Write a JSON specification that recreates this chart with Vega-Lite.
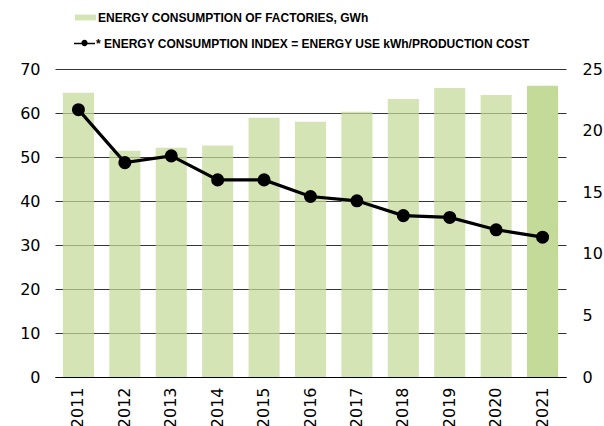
{
  "$schema": "https://vega.github.io/schema/vega-lite/v6.json",
  "width": 511,
  "height": 308,
  "autosize": {"type": "none"},
  "padding": {"left": 55, "top": 69, "right": 38, "bottom": 49},
  "background": "white",
  "data": {
    "values": [
      {"year": "2011", "energy": 64.6, "index": 21.7},
      {"year": "2012", "energy": 51.4, "index": 17.4},
      {"year": "2013", "energy": 52.1, "index": 17.95},
      {"year": "2014", "energy": 52.6, "index": 16.0},
      {"year": "2015", "energy": 58.9, "index": 16.0},
      {"year": "2016", "energy": 58.0, "index": 14.65},
      {"year": "2017", "energy": 60.3, "index": 14.3},
      {"year": "2018", "energy": 63.2, "index": 13.1},
      {"year": "2019", "energy": 65.7, "index": 12.95},
      {"year": "2020", "energy": 64.1, "index": 11.95},
      {"year": "2021", "energy": 66.2, "index": 11.35}
    ]
  },
  "config": {
    "view": {"stroke": null},
    "axis": {
      "labelFont": "DejaVu Sans",
      "labelFontSize": 16,
      "labelColor": "#000",
      "ticks": false,
      "title": null
    },
    "legend": {
      "labelFont": "Liberation Sans",
      "labelFontWeight": "bold",
      "labelFontSize": 12,
      "labelColor": "#000",
      "labelLimit": 0,
      "title": null,
      "orient": "none"
    }
  },
  "encoding": {
    "x": {
      "field": "year",
      "type": "nominal",
      "scale": {"paddingInner": 0.33, "paddingOuter": 0.17},
      "axis": {
        "labelAngle": -90,
        "labelPadding": 10,
        "domain": true,
        "domainColor": "#000",
        "domainWidth": 1.2,
        "grid": false
      }
    }
  },
  "layer": [
    {
      "mark": {"type": "bar"},
      "encoding": {
        "y": {
          "field": "energy",
          "type": "quantitative",
          "scale": {"domain": [0, 70], "nice": false},
          "axis": {
            "values": [0, 10, 20, 30, 40, 50, 60, 70],
            "domain": false,
            "grid": true,
            "gridColor": "#333",
            "gridWidth": 1.2,
            "labelPadding": 15
          }
        },
        "fill": {
          "datum": "ENERGY CONSUMPTION OF FACTORIES, GWh",
          "scale": {"range": ["#c3da98"]},
          "legend": {
            "legendX": 19,
            "legendY": -63,
            "symbolType": "M-1,-0.28H1V0.28H-1Z",
            "symbolSize": 441,
            "symbolOpacity": 0.72,
            "labelOffset": 1
          }
        },
        "opacity": {
          "condition": {"test": "datum.year == '2021'", "value": 1},
          "value": 0.72
        }
      }
    },
    {
      "encoding": {
        "y": {
          "field": "index",
          "type": "quantitative",
          "scale": {"domain": [0, 25], "nice": false},
          "axis": {
            "orient": "right",
            "values": [0, 5, 10, 15, 20, 25],
            "domain": false,
            "grid": false,
            "labelPadding": 16
          }
        }
      },
      "layer": [
        {
          "mark": {"type": "line", "strokeWidth": 3.2},
          "encoding": {
            "stroke": {
              "datum": "* ENERGY CONSUMPTION INDEX = ENERGY USE kWh/PRODUCTION COST",
              "scale": {"range": ["#000"]},
              "legend": {
                "legendX": 19,
                "legendY": -36,
                "symbolType": "M-1,-0.07H1V0.07H-1Z M-0.3,-0.05A0.3,0.3 0 1,1 0.3,-0.05A0.3,0.3 0 1,1 -0.3,-0.05Z",
                "symbolSize": 441,
                "symbolFillColor": "#000",
                "symbolStrokeWidth": 0,
                "labelOffset": 1,
                "encode": {
                  "symbols": {"update": {"fill": {"value": "#000"}, "strokeWidth": {"value": 0}}}
                }
              }
            }
          }
        },
        {
          "mark": {"type": "point", "filled": true, "size": 170, "opacity": 1, "color": "#000"},
          "encoding": {}
        }
      ]
    }
  ],
  "resolve": {"scale": {"y": "independent"}}
}
